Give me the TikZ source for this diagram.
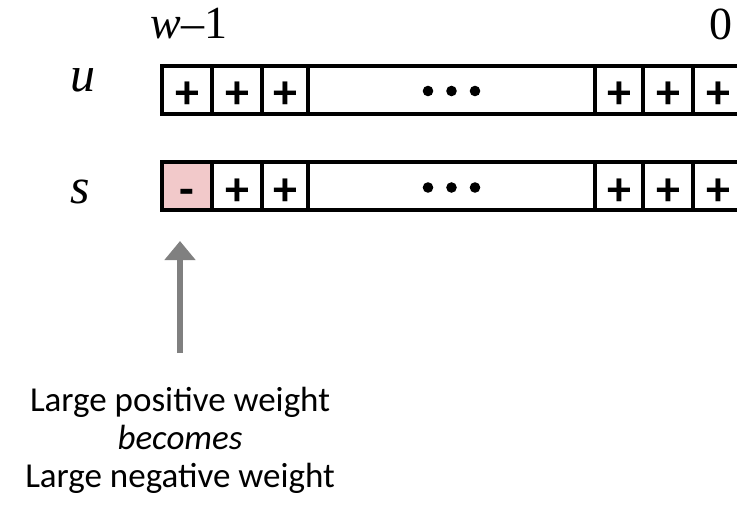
\documentclass[tikz,border=0pt]{standalone}
\usepackage{fontspec}
\setmainfont{Carlito}
\newfontfamily\tnr[Ligatures=TeX]{Liberation Serif}
\usetikzlibrary{arrows.meta}
\definecolor{pinkfill}{HTML}{F2C9CA}
\definecolor{arrowgray}{HTML}{808080}
\tikzset{
  cell/.style={draw=black, line width=4pt, minimum height=48pt, inner sep=0pt,
    text height=38.6pt, text depth=0pt, font=\fontsize{48}{48}\selectfont\bfseries},
  varlabel/.style={font=\tnr\itshape\fontsize{50}{50}\selectfont, inner sep=0pt},
  idxlabel/.style={font=\tnr\fontsize{46}{46}\selectfont, inner sep=0pt},
  caption/.style={font=\fontsize{35}{38}\selectfont, align=center, inner sep=0pt}
}
\begin{document}
\begin{tikzpicture}[x=1pt,y=-1pt]
\useasboundingbox (0,0) rectangle (737,507);
\clip (0,0) rectangle (737,507);
% row u
\foreach \name/\xa/\xb/\txt in {ua/162/212/+, ub/212/262/+, uc/262/308/+, ud/308/595/{}, ue/595/643/+, uf/643/693/+, ug/693/743/+}{
  \node[cell, minimum width={\xb-\xa}] (\name) at ({(\xa+\xb)/2},89.5) {\txt};
}
% row s
\foreach \name/\xa/\xb/\txt in {sb/212/262/+, sc/262/308/+, sd/308/595/{}, se/595/643/+, sf/643/693/+, sg/693/743/+}{
  \node[cell, minimum width={\xb-\xa}] (\name) at ({(\xa+\xb)/2},186) {\txt};
}
\node[cell, fill=pinkfill, minimum width=50pt] (sa) at (187,186) {-};
% ellipsis dots
\foreach \c in {ud,sd}{
  \foreach \dx in {-23.5,0,23.5}{
    \fill ([xshift=\dx pt, yshift=-1.5pt]\c.center) circle (5.3pt);
  }
}
% labels
\node[varlabel] (lu) at (83,80) {u};
\node[varlabel] (ls) at (80,192) {s};
\node[idxlabel] (lw) at (189,24) {{\itshape w}\textendash 1};
\node[idxlabel] (l0) at (721,24) {0};
% caption and arrow
\node[caption] (cap) at (180,440) {Large positive weight\\\textit{becomes}\\Large negative weight};
\coordinate (tail) at (180,353);
\coordinate (head) at (180,241);
\draw[arrowgray, line width=6pt, -{Triangle[length=19pt,width=30pt]}] (tail) -- (head);
\end{tikzpicture}
\end{document}
